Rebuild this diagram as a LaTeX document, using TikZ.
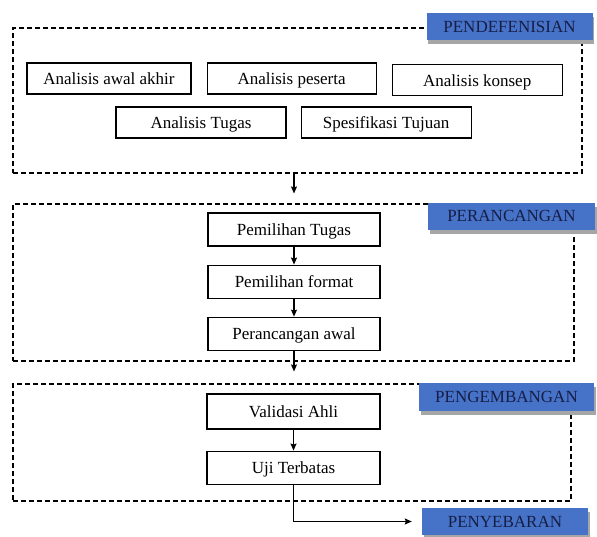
\documentclass[tikz,border=0pt]{standalone}
\usepackage{fontspec}
\setmainfont{Liberation Serif}
\usepackage{xcolor}
\usepackage{tikz}
\usetikzlibrary{positioning}
\usetikzlibrary{arrows.meta, shadows}

\definecolor{tahapblue}{RGB}{70,114,200}
\definecolor{tahaptext}{RGB}{22,30,70}

\begin{document}
\begin{tikzpicture}[
			x=1pt, y=-1pt,
			font=\fontsize{17}{20}\selectfont,
			box/.style={
				draw,
				line width=1.1pt,
				align=center,
				minimum width=170pt,
				minimum height=32pt,
				text height=14pt,
				text depth=2pt,
				inner sep=0pt
			},
			fase/.style={
				draw,
				line width=1.1pt,
				dash pattern=on 5pt off 3pt,
				inner sep=0pt
			},
			tahap/.style={
				fill=tahapblue,
				text=tahaptext,
				minimum width=166pt,
				minimum height=27pt,
				text height=13pt,
				text depth=2pt,
				inner sep=0pt,
				drop shadow={shadow xshift=1.5pt, shadow yshift=-4pt, fill=gray!70, opacity=1}
			},
			arr/.style={-{Stealth[length=7pt, width=6pt, inset=1pt]}, line width=1.1pt},
			node distance=15pt
			]
			
			\useasboundingbox (0,0) rectangle (597,536);
			
			% tahap pendefinisian
			\node[fase, minimum width=569pt, minimum height=145pt] (fase1) at (297.5,100.5) {};
			\node[box, minimum width=164pt, minimum height=31pt] (awal) at (109,78.5) {Analisis awal akhir};
			\node[box, minimum width=169pt, minimum height=31pt, right=of awal] (peserta) {Analisis peserta};
			\node[box, minimum height=31pt, right=of peserta, yshift=-1.5pt] (konsep) {Analisis konsep};
			\node[box, minimum height=31pt] (tugas) at (201,122.5) {Analisis Tugas};
			\node[box, minimum height=31pt, right=14pt of tugas] (spesifikasi) {Spesifikasi Tujuan};
			\node[tahap] (definisi) at (509.5,26.5) {PENDEFENISIAN};
			
			% tahap perancangan
			\node[fase, minimum width=561pt, minimum height=157pt] (fase2) at (293.5,282.5) {};
			\node[box, minimum width=172pt, minimum height=33pt] (pilihTugas) at (294,229.5) {Pemilihan Tugas};
			\node[box, minimum width=172pt, minimum height=33pt, below=18pt of pilihTugas] (pilihFormat) {Pemilihan format};
			\node[box, minimum width=172pt, minimum height=33pt, below=18pt of pilihFormat] (rancangAwal) {Perancangan awal};
			\node[tahap, minimum width=167pt] (rancang) at (511.5,216) {PERANCANGAN};
			
			% tahap pengembangan
			\node[fase, minimum width=558pt, minimum height=117pt] (fase3) at (292,442.5) {};
			\node[box, minimum width=173pt, minimum height=35pt] (validasi) at (293.5,411.5) {Validasi Ahli};
			\node[box, minimum width=173pt, minimum height=33pt, below=21pt of validasi] (uji) {Uji Terbatas};
			\node[tahap, minimum width=175pt, minimum height=28pt] (kembang) at (506.5,397) {PENGEMBANGAN};
			
			% tahap penyebaran
			\node[tahap] (sebar) at (505,521.5) {PENYEBARAN};
			
			\draw[arr, shorten >=10pt] (fase1.south -| pilihTugas) -- (fase2.north -| pilihTugas);
			\draw[arr] (pilihTugas) -- (pilihFormat);
			\draw[arr] (pilihFormat) -- (rancangAwal);
			\draw[arr, shorten >=12pt] (rancangAwal) -- (fase3.north -| rancangAwal);
			\draw[arr] (validasi) -- (uji);
			\draw[arr, shorten >=10pt] (uji.south) |- (sebar.west);
			
		\end{tikzpicture}
\end{document}
